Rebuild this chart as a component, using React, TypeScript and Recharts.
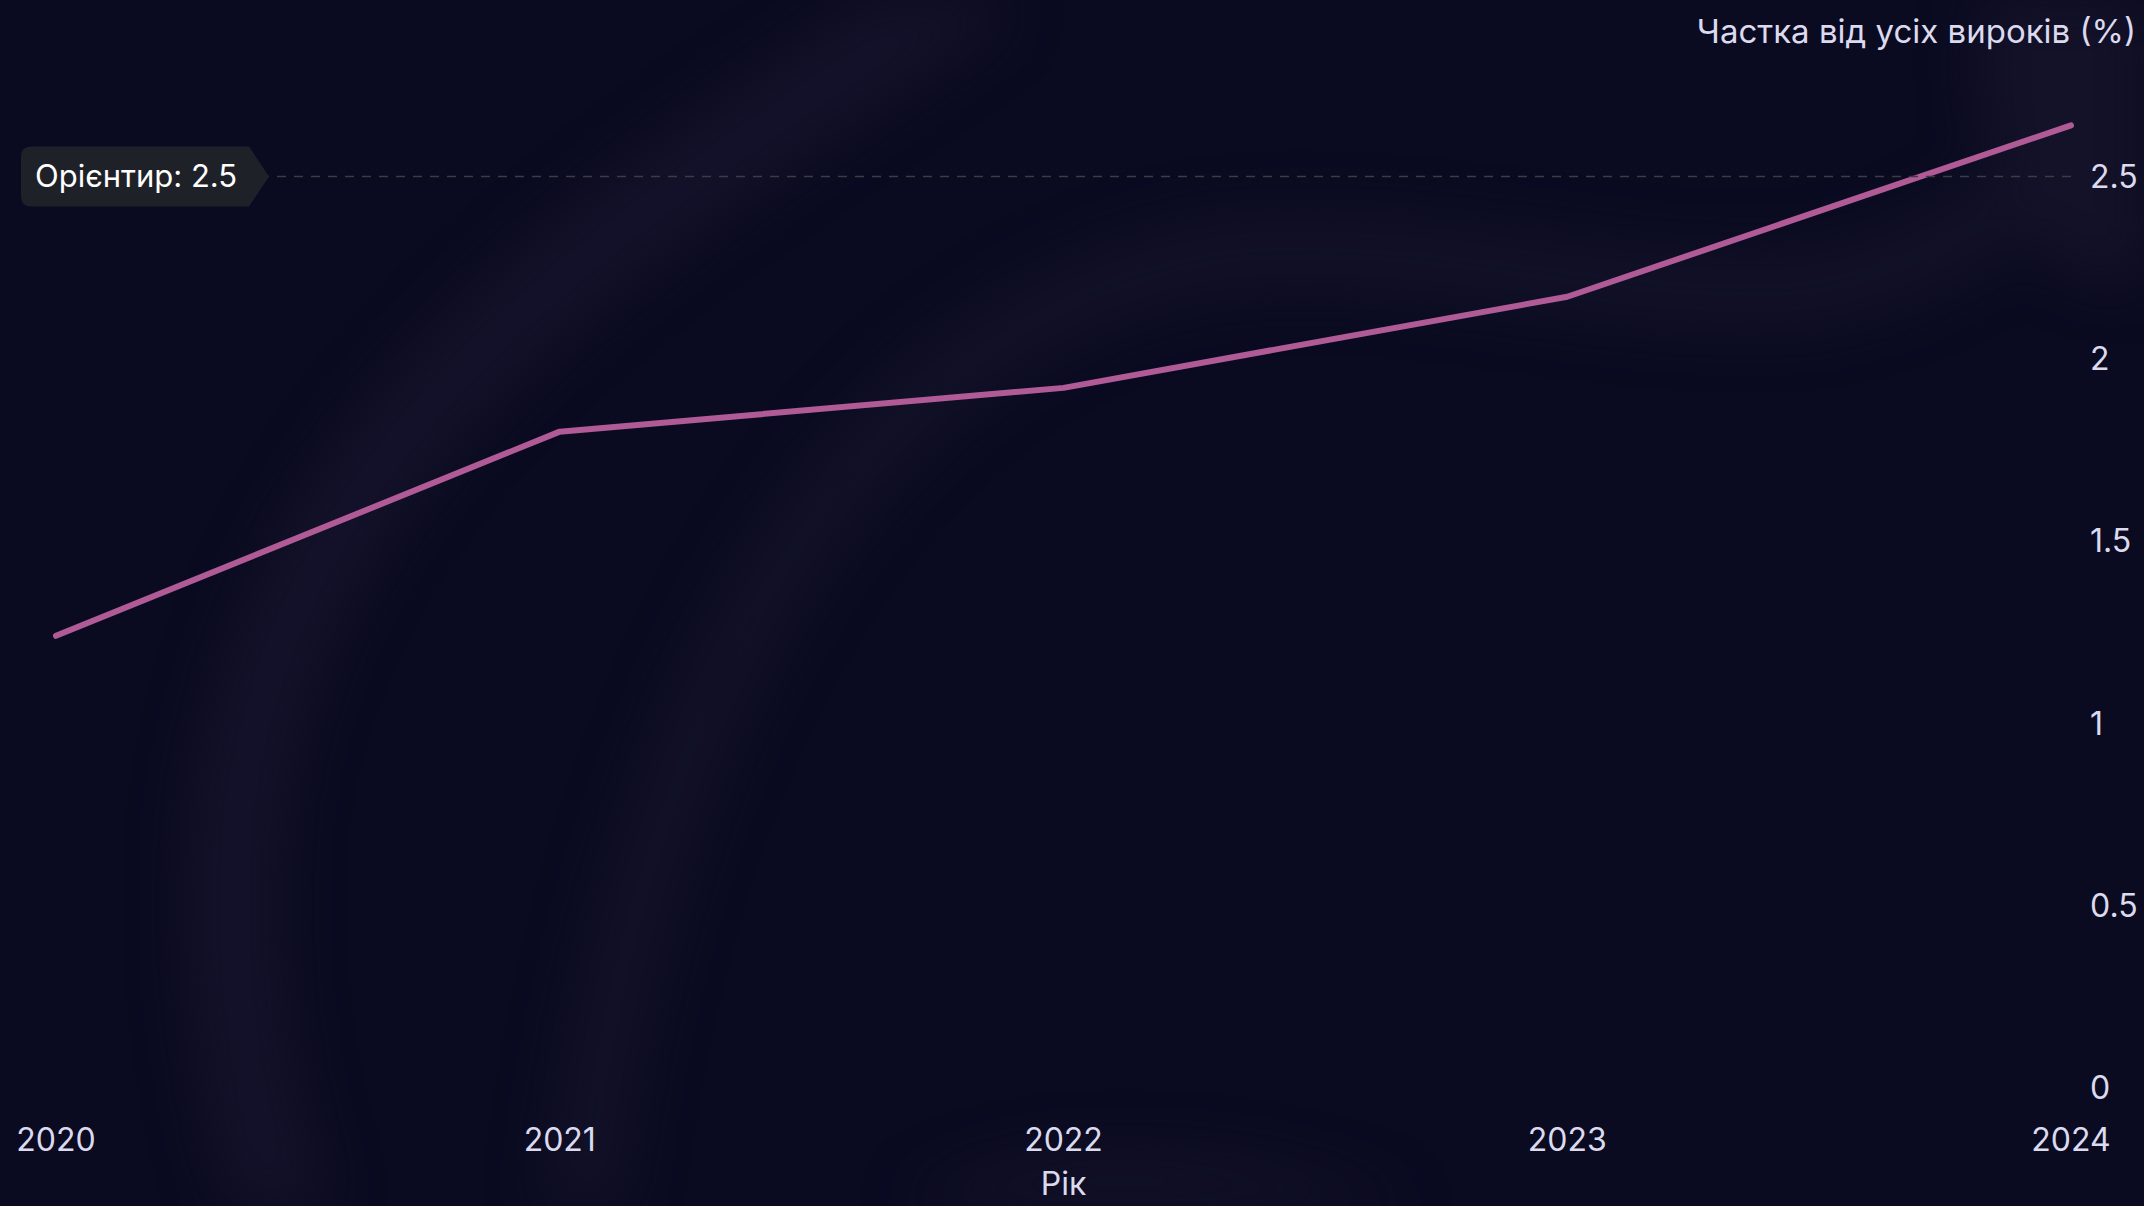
import { LineChart, Line, XAxis, YAxis, ReferenceLine } from "recharts";

const years = ["2020", "2021", "2022", "2023", "2024"];
const shares = [1.24, 1.8, 1.92, 2.17, 2.64];
const yTicks = [0, 0.5, 1, 1.5, 2, 2.5];
const benchmark = 2.5;

const data = years.map((year, i) => ({ year, share: shares[i] }));

const TEXT = "#dcdaee";
const FONT = "Inter, 'Noto Sans', sans-serif";

// label box with arrow, sits left of the dashed line
function BenchmarkLabel(props: any) {
  const { viewBox } = props;
  const x0 = viewBox.x - 35;
  const yc = viewBox.y;
  const w = 228;
  const h = 60;
  const r = 10;
  const top = yc - h / 2;
  const bot = yc + h / 2;
  const right = x0 + w;
  const path = `M${x0 + r},${top} L${right},${top} L${right + 20},${yc} L${right},${bot} L${x0 + r},${bot} Q${x0},${bot} ${x0},${bot - r} L${x0},${top + r} Q${x0},${top} ${x0 + r},${top} Z`;
  return (
    <g>
      <path d={path} fill="#1f2128" />
      <text x={x0 + 14} y={yc + 11} fill="#ffffff" fontSize={31} fontFamily={FONT}>
        {`Орієнтир: ${benchmark}`}
      </text>
    </g>
  );
}

function XLabel(props: any) {
  const { viewBox } = props;
  return (
    <text
      x={viewBox.x + viewBox.width / 2}
      y={viewBox.y + 107}
      textAnchor="middle"
      fill={TEXT}
      fontSize={32}
      fontFamily={FONT}
    >
      Рік
    </text>
  );
}

export default function App() {
  return (
    <div
      style={{
        position: "absolute",
        left: 0,
        top: 0,
        width: 2144,
        height: 1206,
        overflow: "hidden",
        background: "#0a0b21",
        fontFamily: FONT,
      }}
    >
      {/* faint background shapes */}
      <svg
        width={2144}
        height={1206}
        style={{ position: "absolute", left: 0, top: 0, filter: "blur(28px)" }}
      >
        <g fill="none">
          <path d="M980,-20 C700,180 300,380 240,800 C220,1000 260,1150 290,1230" stroke="#14122a" strokeWidth={90} />
          <path d="M580,1230 C620,800 800,320 1230,255 C1450,240 1600,300 1800,290 C2000,260 2080,140 2150,40" stroke="#121128" strokeWidth={70} />
          <ellipse cx={2120} cy={60} rx={140} ry={220} fill="#141229" />
          <path d="M920,1230 C1000,1170 1200,1160 1400,1230" stroke="#131128" strokeWidth={50} />
        </g>
      </svg>

      <div style={{ position: "absolute", right: 8, top: 11, color: TEXT, fontSize: 33, lineHeight: "40px", whiteSpace: "nowrap" }}>
        Частка від усіх вироків (%)
      </div>

      <div style={{ position: "absolute", left: 0, top: 0 }}>
        <LineChart width={2144} height={1206} data={data} margin={{ top: 67, right: 0, bottom: 0, left: 56 }}>
          <XAxis
            dataKey="year"
            height={118}
            axisLine={false}
            tickLine={false}
            tickSize={0}
            tickMargin={40}
            tick={{ fill: TEXT, fontSize: 32, fontFamily: FONT }}
            interval={0}
            label={<XLabel />}
          />
          <YAxis
            orientation="right"
            width={73}
            domain={[0, 2.8]}
            ticks={yTicks}
            axisLine={false}
            tickLine={false}
            tickSize={0}
            tickMargin={19}
            tick={{ fill: TEXT, fontSize: 32, fontFamily: FONT, textAnchor: "start" }}
          />
          <Line
            type="linear"
            dataKey="share"
            stroke="#b05a96"
            strokeWidth={6}
            strokeLinecap="round"
            strokeLinejoin="round"
            dot={false}
            activeDot={false}
            isAnimationActive={false}
          />
          <ReferenceLine
            y={benchmark}
            stroke="#3a3d44"
            strokeWidth={1.5}
            strokeDasharray="9 8"
            label={<BenchmarkLabel />}
          />
        </LineChart>
      </div>
    </div>
  );
}
